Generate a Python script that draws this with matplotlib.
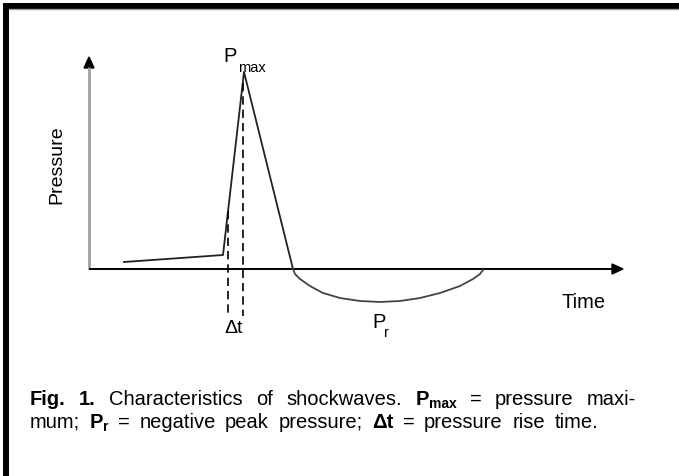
import matplotlib
matplotlib.use("Agg")
import matplotlib.pyplot as plt
from matplotlib.patches import Rectangle, Polygon
from matplotlib.transforms import Affine2D

plt.rcParams['font.family'] = ['Liberation Sans', 'DejaVu Sans']

# schematic shockwave (time units, pressure units)
rise_t = [3.5, 13.4, 15.5, 20.4]
rise_p = [0.7, 1.4, 19.7, 0.0]
neg_t = [20.4, 20.6, 21.1, 22.1, 23.4, 25.1, 27.1, 29.1, 31.1, 33.1, 35.1, 37.1, 38.4, 39.1, 39.4]
neg_p = [0.0, -0.5, -1.0, -1.7, -2.4, -2.9, -3.2, -3.3, -3.2, -2.9, -2.4, -1.7, -1.0, -0.5, -0.1]
dt_t = [13.9, 15.4]          # rise time markers
dt_top = [5.8, 18.6]
dt_bottom = -4.7
t_end, p_end = 53.4, 21.2    # arrow tips

caption = [
    [[("Fig.", "bold", False)], [("1.", "bold", False)], [("Characteristics", "normal", False)],
     [("of", "normal", False)], [("shockwaves.", "normal", False)],
     [("P", "bold", False), ("max", "bold", True)], [("=", "normal", False)],
     [("pressure", "normal", False)], [("maxi-", "normal", False)]],
    [[("mum;", "normal", False)], [("P", "bold", False), ("r", "bold", True)], [("=", "normal", False)],
     [("negative", "normal", False)], [("peak", "normal", False)], [("pressure;", "normal", False)],
     [("Δt", "bold", False)], [("=", "normal", False)], [("pressure", "normal", False)],
     [("rise", "normal", False)], [("time.", "normal", False)]],
]

W, H = 679, 477
fig = plt.figure(figsize=(W / 100, H / 100), dpi=100)
ax = fig.add_axes([0, 0, 1, 1])
ax.set_xlim(0, W)
ax.set_ylim(H, 0)
ax.axis('off')

# waveform coordinates -> pixel layout
wave = Affine2D().scale(10, -10).translate(89, 270) + ax.transData

# frame of the scanned figure
ax.add_patch(Rectangle((3, 4), W, 5.5, color='black', lw=0))
ax.add_patch(Rectangle((3, 4), 5.5, H, color='black', lw=0))
ax.plot([9, W], [10, 10], color='#9a9a9a', lw=1)

# axes with arrows
ax.plot([0, 0], [0, p_end - 1.0], color='#a0a0a0', lw=2, transform=wave, solid_capstyle='butt')
ax.plot([0, t_end - 1.0], [0, 0], color='black', lw=1.4, transform=wave, solid_capstyle='butt')
ax.add_patch(Polygon([(0, p_end), (-0.5, p_end - 1.1), (0.5, p_end - 1.1)], color='black', transform=wave))
ax.add_patch(Polygon([(t_end, 0), (t_end - 1.1, 0.5), (t_end - 1.1, -0.5)], color='black', transform=wave))

# pulse
ax.plot(rise_t, rise_p, color='#222222', lw=1.3, transform=wave)
ax.plot(neg_t, neg_p, color='#444444', lw=1.3, transform=wave)
for t, top in zip(dt_t, dt_top):
    ax.plot([t, t], [top, dt_bottom], color='black', lw=1.2, ls=(0, (5, 3)), transform=wave)

# labels
ax.text(223, 62, "P", fontsize=14.5, va='baseline')
ax.text(238, 72, "max", fontsize=10.5, va='baseline')
ax.text(234, 333, "Δt", fontsize=14, ha='center', va='baseline')
ax.text(372, 328, "P", fontsize=14.5, va='baseline')
ax.text(384, 337, "r", fontsize=10.5, va='baseline')
ax.text(562, 308, "Time", fontsize=14.5, va='baseline')
ax.text(57, 165, "Pressure", fontsize=14, rotation=90, ha='center', va='center')

# caption, laid out word by word and justified to the measured line ends
renderer = fig.canvas.get_renderer()
fs, fs_sub = 14.5, 10


def width(s, weight, size):
    t = ax.text(0, 0, s, fontsize=size, fontweight=weight)
    w = t.get_window_extent(renderer).width
    t.remove()
    return w


x0 = 30
for line, y, x1 in zip(caption, [405, 428], [636, 598]):
    words = []
    for word in line:
        ws = [width(s, wt, fs_sub if sub else fs) for s, wt, sub in word]
        words.append((word, ws))
    total = sum(sum(ws) for _, ws in words)
    gap = (x1 - x0 - total) / (len(words) - 1)
    x = x0
    for word, ws in words:
        for (s, wt, sub), w in zip(word, ws):
            ax.text(x, y + (3 if sub else 0), s, fontsize=fs_sub if sub else fs,
                    fontweight=wt, va='baseline')
            x += w
        x += gap

fig.savefig("out.png", dpi=100)
